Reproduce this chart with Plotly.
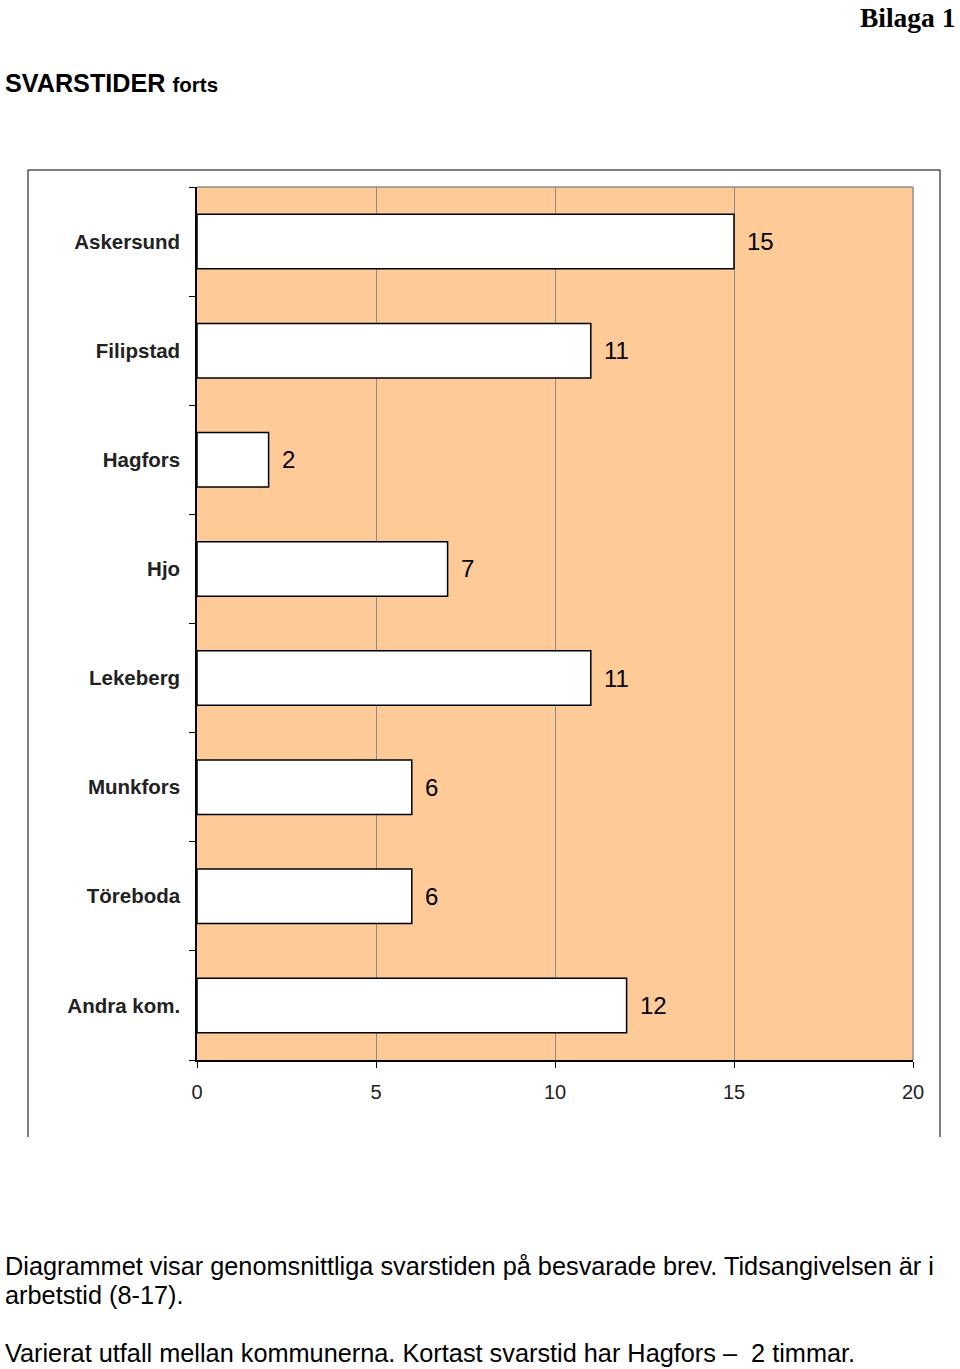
import plotly.graph_objects as go

categories = ["Askersund", "Filipstad", "Hagfors", "Hjo", "Lekeberg", "Munkfors", "Töreboda", "Andra kom."]
values = [15, 11, 2, 7, 11, 6, 6, 12]
x_ticks = [0, 5, 10, 15, 20]

W, H = 960, 1369
def px_x(p): return p / W
def px_y(p): return 1 - p / H

sans = "Liberation Sans, Arial"

fig = go.Figure()
fig.add_trace(go.Bar(
    y=categories, x=values, orientation="h",
    marker=dict(color="white", line=dict(color="black", width=1.5)),
    width=0.5, showlegend=False, hoverinfo="skip",
))

for c, v in zip(categories, values):
    fig.add_annotation(x=v, y=c, xref="x", yref="y", text=str(v), showarrow=False,
                       xanchor="left", xshift=11, font=dict(family=sans, size=24, color="black"))

fig.update_layout(
    template="none",
    width=W, height=H, margin=dict(l=0, r=0, t=0, b=0, pad=0), autosize=False,
    paper_bgcolor="white", plot_bgcolor="#FECA98",
    bargap=0.5,
    xaxis=dict(domain=[px_x(197), px_x(913)], range=[0, 20], tickvals=x_ticks, automargin=False,
               showgrid=True, gridcolor="#8c8c8c", gridwidth=1,
               showline=True, linecolor="black", linewidth=1.5,
               ticks="outside", ticklen=6, tickcolor="black", zeroline=False,
               tickfont=dict(family=sans, size=20, color="#222"), ticklabelstandoff=7),
    yaxis=dict(domain=[px_y(1060), px_y(187)], autorange="reversed", type="category", automargin=False,
               showline=True, linecolor="black", linewidth=1.5,
               ticks="outside", ticklen=6, tickcolor="black", tickson="boundaries",
               showgrid=False, tickfont=dict(family=sans, size=20.5, color="#222"),
               ticklabelstandoff=11),
)

fig.update_yaxes(ticktext=[f"<b>{c}</b>" for c in categories], tickvals=categories)

shapes = [
    dict(type="line", xref="paper", yref="paper", x0=px_x(197), x1=px_x(913), y0=px_y(187), y1=px_y(187),
         line=dict(color="#8c8c8c", width=1.5), layer="above"),
    dict(type="line", xref="paper", yref="paper", x0=px_x(913), x1=px_x(913), y0=px_y(187), y1=px_y(1060),
         line=dict(color="#8c8c8c", width=1.5), layer="above"),
    dict(type="line", xref="paper", yref="paper", x0=px_x(28), x1=px_x(940), y0=px_y(170), y1=px_y(170),
         line=dict(color="black", width=1)),
    dict(type="line", xref="paper", yref="paper", x0=px_x(28), x1=px_x(28), y0=px_y(170), y1=px_y(1137),
         line=dict(color="black", width=1)),
    dict(type="line", xref="paper", yref="paper", x0=px_x(940), x1=px_x(940), y0=px_y(170), y1=px_y(1137),
         line=dict(color="black", width=1)),
]
fig.update_layout(shapes=shapes)

def text(x, y, t, size, family=sans, xanchor="left"):
    fig.add_annotation(x=px_x(x), y=px_y(y), xref="paper", yref="paper", text=t, showarrow=False,
                       xanchor=xanchor, yanchor="middle", align="left",
                       font=dict(family=family, size=size, color="black"))

text(958, 17, "<b>Bilaga 1</b>", 27.5, family="Liberation Serif, Times New Roman", xanchor="right")
text(3, 83, "<b>SVARSTIDER</b> <span style='font-size:20.5px'><b>forts</b></span>", 25.2)
text(3, 1266, "Diagrammet visar genomsnittliga svarstiden på besvarade brev. Tidsangivelsen är i", 25.3)
text(3, 1295, "arbetstid (8-17).", 25.3)
text(3, 1353, "Varierat utfall mellan kommunerna. Kortast svarstid har Hagfors –  2 timmar.", 25.3)

fig.write_html("out.html",
               post_script="document.body.style.margin='0';document.body.style.overflow='hidden';")
